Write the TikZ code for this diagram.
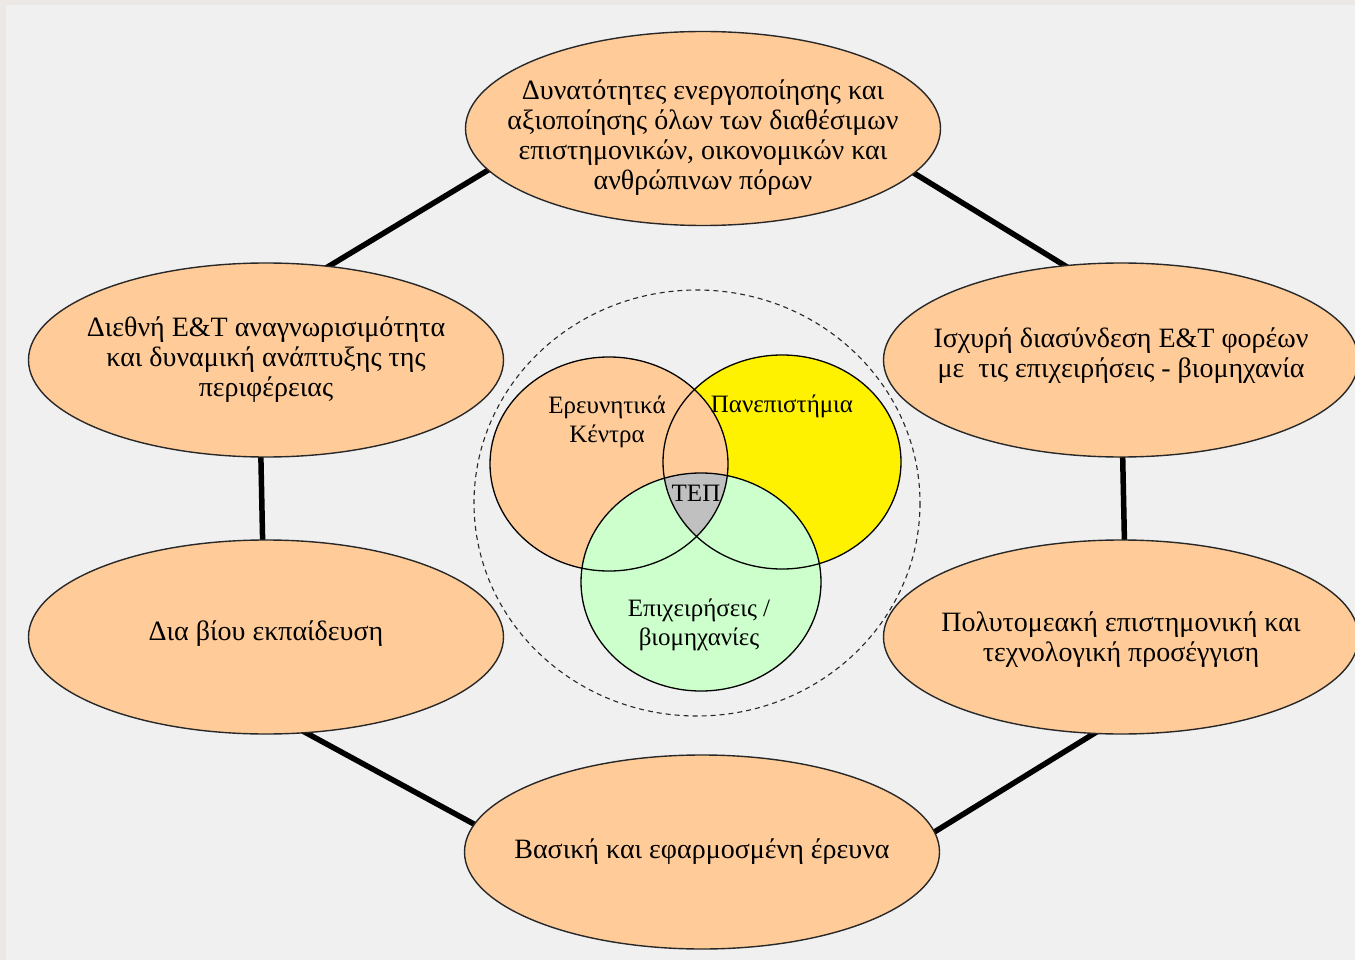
\documentclass[tikz,border=0pt]{standalone}
\usepackage{fontspec}
\setmainfont{Liberation Serif}
\usetikzlibrary{shapes.geometric,backgrounds}
\definecolor{bgcol}{RGB}{240,240,240}
\definecolor{framecol}{RGB}{236,232,230}
\definecolor{peach}{RGB}{255,204,153}
\definecolor{mint}{RGB}{204,255,204}
\definecolor{tepgrey}{RGB}{192,192,192}
\definecolor{edgecol}{RGB}{40,40,40}
\newcommand{\goallines}[2][0pt]{\makebox[0pt][c]{\raisebox{#1}[\height][\depth]{\begin{tabular}{@{}c@{}}#2\end{tabular}}}}
\tikzset{
  goal/.style={ellipse, draw=edgecol, line width=1.4pt, fill=peach,
    minimum width=475pt, minimum height=194pt, inner sep=0pt,
    font=\fontsize{28}{30}\selectfont},
  link/.style={line width=5.5pt, black, shorten <=-6pt, shorten >=-6pt},
  vennlabel/.style={inner sep=0pt, align=center, font=\fontsize{25}{29}\selectfont},
  vennedge/.style={draw=black, line width=1.3pt}
}
\begin{document}
\begin{tikzpicture}[x=1pt,y=-1pt]
\useasboundingbox (0,0) rectangle (1355,960);

% Venn diagram
\draw[edgecol, line width=1.1pt, dash pattern=on 5pt off 4pt] (697,503) ellipse [x radius=223, y radius=213];
\fill[yellow] (782,462) ellipse [x radius=119, y radius=107];
\fill[peach] (609,464) ellipse [x radius=119, y radius=107];
\fill[mint] (701,582) ellipse [x radius=120, y radius=109];
\begin{scope}
  \clip (609,464) ellipse [x radius=119, y radius=107];
  \clip (782,462) ellipse [x radius=119, y radius=107];
  \fill[tepgrey] (701,582) ellipse [x radius=120, y radius=109];
\end{scope}
\draw[vennedge] (609,464) ellipse [x radius=119, y radius=107];
\draw[vennedge] (782,462) ellipse [x radius=119, y radius=107];
\draw[vennedge] (701,582) ellipse [x radius=120, y radius=109];

\node[vennlabel] (rc) at (607,422) {Ερευνητικά\\Κέντρα};
\node[vennlabel] (uni) at (782,406) {Πανεπιστήμια};
\node[vennlabel] (tep) at (696,493) {ΤΕΠ};
\node[vennlabel] (biz) at (699,625) {Επιχειρήσεις /\\βιομηχανίες};

% Outer goals
\node[goal] (T) at (703,128.5) {\goallines[-10pt]{Δυνατότητες ενεργοποίησης και\\αξιοποίησης όλων των διαθέσιμων\\επιστημονικών, οικονομικών και\\ανθρώπινων πόρων}};
\node[goal] (LU) at (266,360) {\goallines{Διεθνή Ε\&Τ αναγνωρισιμότητα\\και δυναμική ανάπτυξης της\\περιφέρειας}};
\node[goal] (RU) at (1121,360) {\goallines[4pt]{Ισχυρή διασύνδεση Ε\&Τ φορέων\\με~ τις επιχειρήσεις - βιομηχανία}};
\node[goal] (LL) at (266,637) {\goallines[3pt]{Δια βίου εκπαίδευση}};
\node[goal] (RL) at (1121,637) {\goallines[-3pt]{Πολυτομεακή επιστημονική και\\τεχνολογική προσέγγιση}};
\node[goal] (B) at (702,852) {\goallines{Βασική και εφαρμοσμένη έρευνα}};

% Connectors (behind the ellipses)
\begin{pgfonlayer}{background}
\fill[framecol] (0,0) rectangle (1355,960);
\fill[bgcol] (6,5) rectangle (1355,960);
\draw[link] (T.191.4) -- (LU.56.9);
\draw[link] (T.348.8) -- (RU.121.9);
\draw[link] (LU.267.6) -- (LL.92.4);
\draw[link] (RU.271.2) -- (RL.88.8);
\draw[link] (LL.293.7) -- (B.173.8);
\draw[link] (RL.254.9) -- (B.5.4);
\end{pgfonlayer}
\end{tikzpicture}
\end{document}
